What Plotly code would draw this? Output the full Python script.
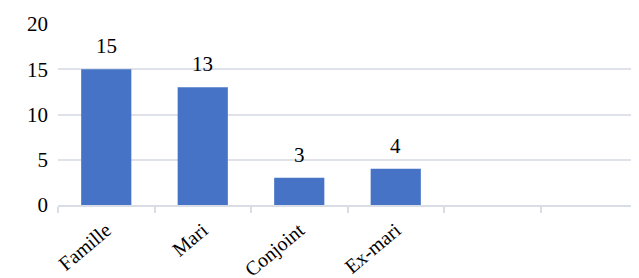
import plotly.graph_objects as go

categories = ["Famille", "Mari", "Conjoint", "Ex-mari", " ", "  "]
values = [15, 13, 3, 4, None, None]
y_ticks = [0, 5, 10, 15, 20]

FONT = "'Liberation Serif', 'DejaVu Serif', serif"

fig = go.Figure()
fig.add_trace(go.Bar(
    x=categories, y=values,
    marker=dict(color="#4673c6", line=dict(width=0)),
    width=0.52,
    hoverinfo="skip",
))

for c, v in zip(categories, values):
    if v is not None:
        fig.add_annotation(x=c, y=v, text=str(v), showarrow=False,
                           yanchor="bottom", yshift=9,
                           font=dict(family=FONT, size=21, color="#000"))

fig.update_layout(
    width=639, height=278,
    margin=dict(l=50, r=10, t=16, b=81),
    paper_bgcolor="white", plot_bgcolor="white",
    showlegend=False,
    font=dict(family=FONT, size=20, color="#000"),
    xaxis=dict(
        type="category", categoryorder="array", categoryarray=categories,
        tickangle=-40, tickson="boundaries", ticks="outside", ticklen=6,
        tickcolor="#d9dde5", tickwidth=1.5,
        showline=True, linecolor="#d9dde5", linewidth=1.5,
        showgrid=False, automargin=False, ticklabelstandoff=4,
        tickfont=dict(family=FONT, size=20, color="#000"),
        range=[-0.5, 5.5],
    ),
    yaxis=dict(
        range=[0, 20], tickvals=y_ticks, showgrid=True,
        gridcolor="#dfe2e8", gridwidth=1.5, zeroline=False,
        showline=False, ticks="", automargin=False, ticklabelstandoff=9,
        tickfont=dict(family=FONT, size=21, color="#000"),
    ),
)

fig.write_html("out.html")
